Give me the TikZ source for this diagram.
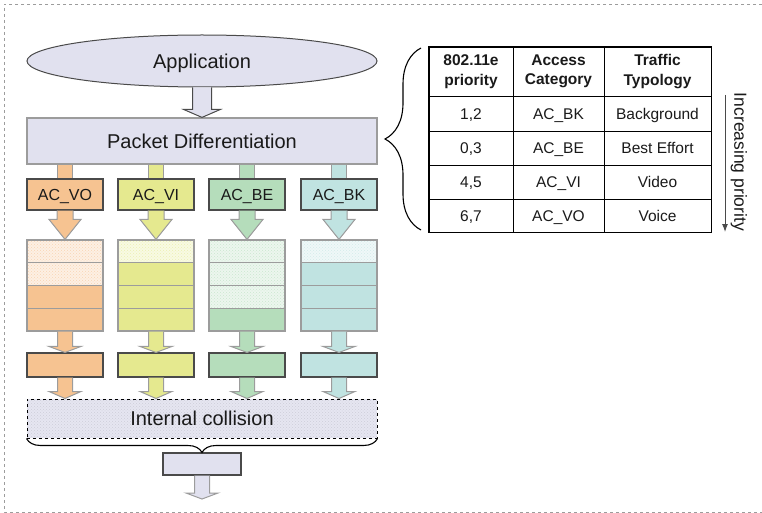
\documentclass[tikz,border=0pt]{standalone}
\usepackage{fontspec}
\setmainfont{Liberation Sans}
\usetikzlibrary{calc,patterns,decorations.pathreplacing,shapes.geometric,arrows.meta}
\definecolor{lav}{HTML}{E1E1EF}
\definecolor{cor}{HTML}{F6C391}
\definecolor{cyl}{HTML}{E5E98F}
\definecolor{cgr}{HTML}{B5DDBB}
\definecolor{ccy}{HTML}{C0E3E1}
\definecolor{dgray}{HTML}{4A4A4A}
\definecolor{mgray}{HTML}{9C9C9C}
\definecolor{txt}{HTML}{1A1A1A}
\newcommand\barrow[7]{% from, to, fill, draw, shaft half, head half, head length
  \filldraw[draw=#4, fill=#3, line width=1pt, line join=miter]
    let \p1=(#1), \p2=(#2) in
    (\x1-#5pt,\y1) -- (\x1-#5pt,\y2+#7pt) -- (\x1-#6pt,\y2+#7pt) -- (\x1,\y2)
    -- (\x1+#6pt,\y2+#7pt) -- (\x1+#5pt,\y2+#7pt) -- (\x1+#5pt,\y1);
}
\newcommand\bstub[4]{% from, to, fill, half width
  \fill[#3] let \p1=(#1), \p2=(#2) in (\x1-#4pt,\y1) rectangle (\x1+#4pt,\y2);
  \draw[mgray, line width=1pt] let \p1=(#1), \p2=(#2) in
    (\x1-#4pt,\y1) -- (\x1-#4pt,\y2) (\x1+#4pt,\y1) -- (\x1+#4pt,\y2);
}
\begin{document}
\begin{tikzpicture}[x=1pt,y=-1pt,
  every node/.style={inner sep=0pt, text=txt},
  bigfont/.style={font=\fontsize{20}{24}\selectfont, text height=14.3pt, text depth=0pt},
  acbox/.style={draw=dgray, line width=1.1pt, minimum width=76pt, minimum height=31pt, font=\fontsize{16}{19}\selectfont, text height=11.5pt, text depth=0pt},
  qcell/.style={draw=mgray, line width=1.2pt, minimum width=76pt, minimum height=22.75pt},
  lightcell/.style={qcell, preaction={fill=#1!25!white}, pattern=crosshatch dots, pattern color=#1!70!white},
  fullcell/.style={qcell, fill=#1},
  rowbox/.style={draw=dgray, line width=1.1pt, minimum width=76pt, minimum height=24pt},
  tcell/.style={draw=black, line width=0.8pt, font=\fontsize{15.5}{18.5}\selectfont, text height=11.1pt, text depth=0pt},
  hcell/.style={draw=black, line width=0.8pt, font=\fontsize{15.5}{19.5}\selectfont\bfseries, align=center},
]
\useasboundingbox (0,0) rectangle (762,513);
\draw[mgray, dashed, line width=0.8pt] (762,4) -- (4,4) -- (4,512) -- (762,512);

% main stack
\node[ellipse, draw=dgray, line width=1pt, fill=lav, minimum width=350pt, minimum height=52pt, bigfont] (app) at (202,61) {Application};
\node[draw=mgray, line width=1.2pt, fill=lav, minimum width=350pt, minimum height=46pt, bigfont] (pd) at (202,141) {Packet Differentiation};
\node[draw=black, dashed, line width=1pt, preaction={fill=lav!85!white}, pattern=crosshatch dots, pattern color=lav!80!gray, minimum width=350pt, minimum height=39pt] (ic) at (202,418.5) {};
\node[bigfont] at (ic.center) {Internal collision};
\node[draw=dgray, line width=1.1pt, fill=lav, minimum width=78pt, minimum height=22pt] (bot) at (202,464) {};
\coordinate (botend) at (202,499);

\barrow{app.south}{pd.north}{lav}{dgray}{9.5}{18.5}{8}

\foreach \nm/\xx/\cc/\nl/\lab in {vo/65/cor/2/AC\_VO, vi/156/cyl/1/AC\_VI, be/247/cgr/3/AC\_BE, bk/339/ccy/1/AC\_BK} {
  \node[acbox, fill=\cc] (\nm) at (\xx,194.5) {\lab};
  \foreach \k in {1,...,4} {
    \ifnum\k>\nl \def\st{fullcell}\else\def\st{lightcell}\fi
    \node[\st=\cc] (\nm q\k) at (\xx,{240+(\k-0.5)*22.75}) {};
  }
  \node[rowbox, fill=\cc] (\nm r) at (\xx,365) {};
  \coordinate (\nm t) at (ic.north -| \nm);
  \bstub{pd.south -| \nm}{\nm.north}{\cc}{7.5}
  \barrow{\nm.south}{\nm q1.north}{\cc}{mgray}{8}{16}{20}
  \barrow{\nm q4.south}{\nm r.north}{\cc}{mgray}{7.5}{16}{6}
  \barrow{\nm r.south}{\nm t}{\cc}{mgray}{7.5}{16}{7}
}
\barrow{bot.south}{botend}{lav}{mgray}{7.5}{16}{6}

\draw[black, line width=1.1pt, decorate, decoration={brace, amplitude=14pt}] (ic.south east) -- (ic.south west);

% table
\node[hcell, minimum width=84pt, minimum height=49pt] (h1) at (471,71.5) {802.11e\\priority};
\node[hcell, minimum width=91pt, minimum height=49pt] (h2) at (558.5,71.5) {Access\\Category};
\node[hcell, minimum width=107pt, minimum height=49pt] (h3) at (657.5,71.5) {Traffic\\Typology};
\foreach \r/\yy/\a/\b/\c in {1/113.5/{1,2}/AC\_BK/Background, 2/148/{0,3}/AC\_BE/Best Effort, 3/182/{4,5}/AC\_VI/Video, 4/215.5/{6,7}/AC\_VO/Voice} {
  \pgfmathsetmacro\hh{ifthenelse(\r==1,35,ifthenelse(\r==4,33,34))}
  \node[tcell, minimum width=84pt, minimum height=\hh pt] (r\r c1) at (471,\yy) {\a};
  \node[tcell, minimum width=91pt, minimum height=\hh pt] (r\r c2) at (558.5,\yy) {\b};
  \node[tcell, minimum width=107pt, minimum height=\hh pt] (r\r c3) at (657.5,\yy) {\c};
}
\draw[black, line width=1.5pt] (h1.north west) rectangle (r4c3.south east);

\coordinate (brtop) at (421,48);
\coordinate (brbot) at (421,230);
\draw[black, line width=1.1pt, decorate, decoration={brace, amplitude=36pt}] (brbot) -- (brtop);

\coordinate (pa) at (725,95);
\coordinate (pb) at (725,232);
\draw[dgray, line width=1pt, -{Latex[length=8pt,width=6pt]}] (pa) -- (pb);
\node[rotate=-90, font=\fontsize{17.5}{20}\selectfont] (inc) at (739,162) {Increasing priority};
\end{tikzpicture}
\end{document}
